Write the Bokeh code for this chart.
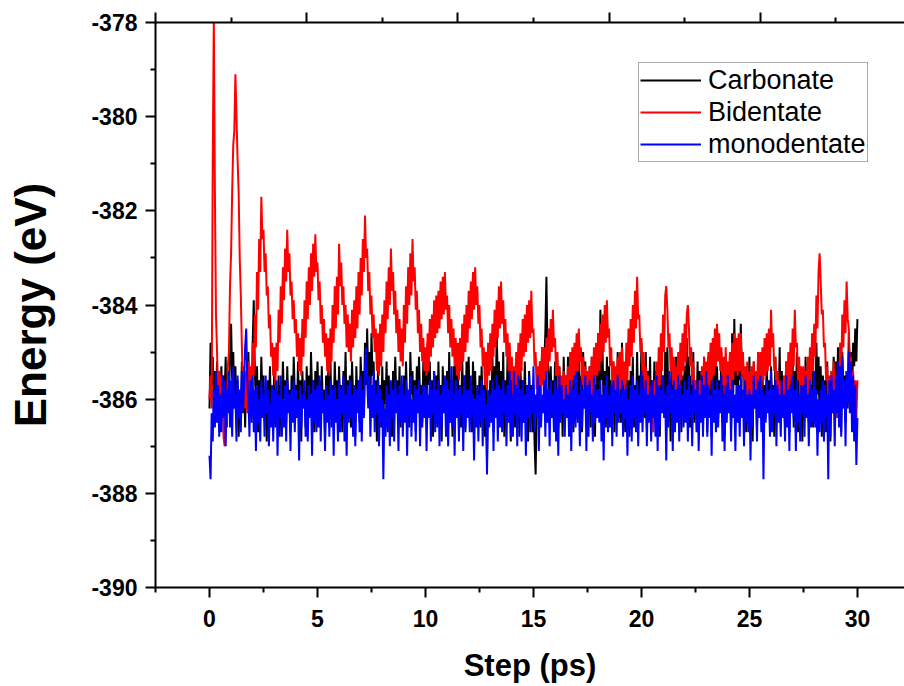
from bokeh.plotting import figure
from bokeh.models import Range1d, LinearAxis, FixedTicker, Legend, LegendItem, ColumnDataSource
from bokeh.embed import file_html
from bokeh.resources import INLINE

# time axis (ps), 0.05 ps sampling
step_ps = [round(i * 0.05, 2) for i in range(601)]

carbonate = [
    -386.2, -384.8, -385.7, -385.1, -386.3, -385.4, -386.0, -385.2, -386.5, -385.6,
    -386.1, -385.3, -386.4, -385.5, -385.9, -385.1, -386.6, -385.7, -386.2, -385.0,
    -384.4, -385.6, -385.0, -386.1, -385.3, -386.4, -385.6, -386.8, -385.8, -386.3,
    -385.2, -386.1, -385.5, -386.6, -385.4, -386.2, -385.0, -386.0, -385.6, -386.5,
    -384.8, -383.9, -385.4, -386.2, -385.3, -386.7, -385.6, -386.3, -385.1, -386.0,
    -385.5, -386.4, -385.8, -386.9, -385.6, -386.1, -385.3, -386.5, -385.7, -386.2,
    -385.4, -386.6, -385.9, -386.3, -385.5, -386.8, -385.7, -386.2, -385.2, -386.0,
    -385.6, -386.5, -385.3, -386.1, -385.8, -386.7, -385.5, -386.4, -385.1, -385.9,
    -385.7, -386.3, -385.2, -386.5, -385.6, -386.9, -385.4, -386.1, -385.8, -386.6,
    -385.3, -386.2, -385.5, -386.4, -385.0, -385.9, -385.6, -386.7, -385.4, -386.3,
    -385.2, -386.0, -385.6, -386.5, -385.3, -386.2, -385.8, -386.8, -385.5, -386.1,
    -385.4, -386.3, -385.1, -386.6, -385.7, -386.4, -385.2, -386.0, -385.6, -386.5,
    -385.3, -386.2, -385.7, -386.7, -385.4, -386.1, -385.0, -386.3, -385.6, -386.4,
    -385.5, -386.6, -385.2, -386.0, -385.8, -386.8, -385.3, -386.2, -385.6, -386.5,
    -385.1, -386.0, -385.4, -386.3, -384.8, -385.7, -384.5, -385.6, -385.0, -386.1,
    -384.6, -385.5, -385.2, -386.4, -385.6, -386.9, -385.4, -386.2, -385.7, -386.6,
    -385.3, -386.5, -385.6, -386.1, -385.2, -386.7, -385.5, -386.3, -385.8, -386.8,
    -385.4, -386.2, -385.1, -386.0, -385.6, -386.5, -385.3, -386.6, -385.7, -386.3,
    -385.5, -386.4, -385.2, -386.1, -385.8, -386.6, -385.0, -385.9, -385.4, -386.3,
    -385.6, -386.7, -385.3, -386.2, -385.1, -386.0, -385.7, -386.5, -385.2, -386.1,
    -385.3, -386.2, -384.8, -385.7, -385.2, -386.4, -385.6, -386.8, -385.4, -386.0,
    -385.5, -386.6, -385.2, -386.3, -385.7, -386.9, -385.3, -386.1, -385.6, -386.4,
    -385.4, -386.2, -385.0, -386.5, -385.6, -386.8, -385.3, -386.0, -384.9, -385.8,
    -385.3, -386.4, -385.7, -386.6, -385.1, -386.2, -385.5, -386.7, -385.2, -386.1,
    -385.1, -386.3, -385.6, -386.7, -385.2, -386.0, -385.4, -386.5, -385.8, -386.4,
    -385.5, -386.6, -385.3, -386.2, -385.7, -386.8, -385.6, -387.3, -385.9, -386.5,
    -385.6, -386.3, -385.1, -386.7, -385.3, -386.0, -384.6, -385.7, -385.2, -386.5,
    -385.4, -386.3, -385.0, -386.8, -385.6, -386.4, -385.1, -386.2, -385.5, -386.9,
    -385.3, -386.1, -385.7, -386.6, -385.2, -386.4, -385.6, -386.8, -385.4, -386.0,
    -385.6, -386.5, -385.2, -386.3, -385.8, -386.9, -385.4, -386.1, -385.7, -386.7,
    -385.7, -386.9, -387.6, -386.2, -385.8, -386.4, -385.2, -385.9, -384.9, -385.6,
    -385.2, -384.6, -383.4, -385.0, -385.5, -386.1, -385.3, -386.4, -385.6, -386.2,
    -385.2, -386.4, -385.0, -386.6, -385.3, -386.1, -385.6, -386.8, -385.1, -386.3,
    -385.5, -386.2, -385.1, -386.0, -385.7, -386.5, -385.4, -386.7, -385.2, -386.1,
    -385.4, -386.5, -384.9, -386.2, -385.5, -386.7, -385.0, -386.0, -385.2, -386.4,
    -385.6, -386.3, -385.3, -386.6, -385.1, -386.0, -385.7, -386.8, -385.4, -386.2,
    -384.6, -385.8, -384.1, -385.6, -385.0, -386.3, -385.4, -386.6, -385.1, -386.2,
    -385.3, -386.5, -385.6, -386.1, -385.2, -386.7, -385.5, -386.3, -385.0, -386.0,
    -385.3, -386.5, -384.8, -386.1, -385.5, -386.7, -385.2, -386.0, -385.6, -386.8,
    -385.4, -386.2, -385.1, -386.6, -385.7, -386.3, -385.0, -386.4, -385.5, -386.1,
    -384.8, -385.9, -385.3, -386.4, -385.0, -386.6, -385.4, -386.2, -385.1, -386.7,
    -385.6, -386.3, -385.2, -386.5, -385.4, -386.1, -385.7, -386.8, -385.3, -386.0,
    -385.5, -386.3, -385.0, -386.5, -384.9, -386.1, -385.6, -386.9, -385.2, -386.0,
    -385.4, -386.6, -385.1, -386.2, -385.7, -386.4, -385.3, -386.7, -385.5, -386.1,
    -385.3, -386.4, -384.7, -385.8, -385.1, -386.6, -385.5, -386.2, -385.0, -386.5,
    -385.6, -386.3, -385.2, -386.7, -385.4, -386.0, -385.7, -386.5, -385.1, -386.2,
    -385.4, -386.7, -385.1, -386.0, -385.6, -386.8, -385.2, -386.3, -384.9, -386.1,
    -385.3, -386.4, -385.6, -386.2, -385.0, -386.5, -385.5, -386.8, -385.2, -386.0,
    -385.5, -386.2, -385.0, -386.6, -384.6, -385.9, -384.3, -385.7, -385.3, -386.4,
    -384.8, -385.6, -384.4, -385.5, -385.2, -386.3, -385.6, -386.7, -385.3, -386.1,
    -385.1, -386.5, -385.6, -386.9, -385.2, -386.0, -385.4, -386.6, -385.0, -386.3,
    -385.5, -386.2, -385.3, -386.7, -385.7, -386.4, -385.2, -386.1, -385.6, -386.5,
    -385.3, -386.1, -385.7, -386.8, -385.1, -386.4, -385.5, -386.2, -384.9, -386.5,
    -385.4, -386.3, -385.6, -386.6, -385.2, -386.0, -385.5, -386.7, -385.3, -386.2,
    -385.2, -386.6, -385.4, -386.0, -385.0, -386.7, -385.3, -386.2, -385.6, -386.9,
    -385.5, -386.4, -385.1, -386.3, -385.7, -386.5, -385.4, -386.0, -385.2, -386.6,
    -385.4, -386.3, -384.8, -385.9, -385.1, -386.5, -385.3, -386.8, -385.5, -386.1,
    -385.6, -386.7, -385.2, -386.4, -385.8, -386.9, -385.4, -386.3, -385.1, -386.0,
    -385.2, -386.4, -384.9, -386.0, -385.3, -386.7, -385.0, -385.8, -385.5, -386.5,
    -385.4, -386.2, -384.6, -385.5, -385.0, -386.1, -384.8, -385.3, -384.5, -385.2,
    -384.3,
]

bidentate = [
    -386.0, -385.5, -386.2, -381.0, -377.9, -381.6, -384.2, -385.0, -386.2, -385.4,
    -385.6, -386.4, -385.7, -386.8, -387.0, -386.2, -386.5, -385.3, -385.0, -383.6,
    -382.9, -381.6, -380.6, -380.3, -379.1, -380.0, -380.9, -381.6, -383.0, -383.8,
    -384.9, -385.8, -385.3, -386.2, -385.4, -386.3, -385.2, -386.1, -385.3, -385.9,
    -384.8, -385.5, -384.2, -384.9, -383.3, -384.1, -382.6, -383.3, -381.7, -382.6,
    -382.4, -383.3, -382.9, -383.8, -383.6, -384.5, -384.2, -385.1, -384.8, -385.5,
    -384.9, -385.7, -384.8, -385.4, -384.1, -384.8, -383.6, -384.4, -383.2, -383.9,
    -382.8, -383.5, -382.4, -383.3, -382.9, -383.8, -383.5, -384.3, -383.9, -384.6,
    -384.3, -385.1, -384.6, -385.4, -384.7, -385.5, -384.3, -385.1, -383.9, -384.7,
    -383.5, -384.3, -383.2, -384.0, -382.9, -383.7, -382.7, -383.4, -382.5, -383.3,
    -383.1, -383.9, -383.5, -384.4, -384.0, -384.8, -384.3, -385.1, -384.6, -385.4,
    -384.7, -385.5, -384.5, -385.2, -384.0, -384.8, -383.6, -384.5, -383.4, -384.2,
    -382.7, -383.6, -383.1, -384.0, -383.6, -384.4, -384.0, -384.9, -384.2, -385.0,
    -384.4, -385.2, -384.1, -384.9, -383.9, -384.7, -383.6, -384.5, -383.3, -384.2,
    -383.0, -383.8, -382.6, -383.3, -382.1, -383.0, -382.8, -383.7, -383.3, -384.2,
    -383.8, -384.7, -384.2, -385.0, -384.5, -385.4, -384.6, -385.5, -384.4, -385.3,
    -384.2, -385.0, -383.9, -384.6, -383.5, -384.3, -383.2, -384.0, -382.8, -383.7,
    -383.3, -384.2, -383.7, -384.6, -384.1, -385.0, -384.3, -385.2, -384.5, -385.3,
    -384.0, -384.8, -383.6, -384.4, -383.2, -384.0, -382.9, -383.8, -382.6, -383.5,
    -383.2, -384.1, -383.7, -384.6, -384.1, -385.0, -384.4, -385.2, -384.7, -385.4,
    -384.9, -385.5, -384.6, -385.4, -384.3, -385.1, -384.2, -384.9, -383.9, -384.7,
    -383.8, -384.6, -383.7, -384.5, -383.5, -384.3, -383.4, -384.2, -383.3, -384.1,
    -383.8, -384.6, -384.0, -384.9, -384.3, -385.1, -384.5, -385.3, -384.7, -385.5,
    -384.8, -385.6, -384.7, -385.4, -384.4, -385.2, -384.2, -385.0, -384.0, -384.8,
    -383.7, -384.5, -383.5, -384.3, -383.3, -384.1, -383.2, -384.0, -383.6, -384.4,
    -384.0, -384.9, -384.5, -385.3, -384.9, -385.7, -385.0, -385.8, -384.8, -385.5,
    -384.6, -385.4, -384.4, -385.1, -384.1, -384.9, -383.9, -384.7, -383.6, -384.5,
    -383.5, -384.4, -383.9, -384.8, -384.3, -385.1, -384.6, -385.4, -384.8, -385.6,
    -385.1, -385.9, -385.3, -386.0, -385.0, -385.8, -384.8, -385.6, -384.6, -385.4,
    -384.3, -385.1, -384.2, -385.0, -384.0, -384.8, -383.9, -384.7, -383.7, -384.6,
    -384.5, -385.3, -385.0, -385.8, -385.3, -386.0, -385.2, -385.9, -384.9, -385.7,
    -384.9, -385.6, -384.7, -385.4, -384.5, -385.2, -384.3, -385.0, -384.1, -384.9,
    -384.7, -385.5, -385.0, -385.8, -385.3, -386.1, -385.5, -386.3, -385.4, -386.2,
    -385.5, -386.3, -385.3, -386.0, -385.0, -385.8, -384.9, -385.6, -384.8, -385.5,
    -384.6, -385.4, -384.5, -385.2, -384.9, -385.7, -385.1, -385.9, -385.3, -386.1,
    -385.4, -386.2, -385.3, -386.0, -385.1, -385.9, -384.9, -385.7, -384.8, -385.5,
    -384.6, -385.4, -384.4, -385.2, -384.2, -385.0, -384.0, -384.8, -383.9, -384.7,
    -384.5, -385.3, -384.9, -385.7, -385.2, -386.0, -385.3, -386.1, -385.1, -385.9,
    -385.0, -385.8, -384.9, -385.7, -385.2, -386.0, -384.8, -385.6, -384.5, -385.3,
    -384.3, -385.1, -384.0, -384.8, -383.7, -384.5, -383.4, -384.3, -384.2, -385.0,
    -384.7, -385.5, -385.0, -385.8, -385.3, -386.1, -385.5, -386.3, -385.7, -386.5,
    -385.9, -386.7, -385.6, -386.4, -385.2, -386.0, -384.9, -385.7, -384.6, -385.4,
    -384.2, -385.0, -383.8, -383.6, -384.1, -384.9, -384.6, -385.4, -384.9, -385.7,
    -385.1, -385.9, -385.3, -386.1, -385.0, -385.8, -384.8, -385.6, -384.6, -385.4,
    -384.4, -385.2, -384.2, -384.0, -384.5, -385.3, -384.9, -385.7, -385.2, -386.0,
    -385.6, -386.4, -385.8, -386.5, -385.6, -386.3, -385.3, -386.1, -385.1, -385.9,
    -385.2, -386.0, -385.0, -385.8, -384.8, -385.6, -384.7, -385.5, -384.5, -385.3,
    -384.4, -385.2, -384.6, -385.4, -384.9, -385.7, -385.1, -385.9, -384.9, -385.7,
    -385.2, -386.0, -385.0, -385.8, -384.8, -385.6, -384.6, -385.4, -384.7, -385.5,
    -384.6, -385.4, -384.6, -385.5, -385.0, -385.8, -385.3, -386.1, -385.2, -386.0,
    -385.4, -386.2, -385.3, -386.1, -385.2, -386.0, -385.4, -386.2, -385.0, -385.8,
    -385.0, -385.8, -384.9, -385.6, -384.7, -385.5, -384.6, -385.4, -384.5, -385.3,
    -384.1, -384.9, -384.6, -385.4, -385.1, -385.9, -385.4, -386.2, -385.6, -386.4,
    -385.7, -386.4, -385.5, -386.2, -385.2, -386.0, -385.0, -385.8, -384.8, -385.6,
    -384.5, -385.3, -384.1, -384.9, -384.8, -385.6, -385.1, -385.9, -385.3, -386.1,
    -385.3, -386.1, -385.4, -386.2, -385.1, -385.9, -384.9, -385.7, -384.6, -385.4,
    -384.4, -385.1, -383.8, -384.5, -383.3, -382.9, -383.5, -384.2, -384.1, -384.9,
    -384.8, -385.6, -385.3, -386.1, -385.5, -386.3, -385.4, -386.2, -385.2, -386.0,
    -385.8, -386.4, -385.3, -386.0, -384.8, -385.5, -384.2, -384.9, -383.9, -384.6,
    -383.5, -384.3, -384.5, -385.3, -385.1, -385.9, -385.4, -386.2, -385.6, -386.4,
    -385.6,
]

monodentate = [
    -387.2, -387.7, -386.3, -386.9, -385.8, -386.6, -385.4, -386.5, -385.7, -386.8,
    -385.9, -386.7, -385.5, -386.4, -385.6, -387.0, -385.8, -386.3, -385.4, -386.6,
    -385.6, -386.8, -385.3, -386.2, -385.9, -386.9, -385.5, -386.4, -385.8, -386.7,
    -385.4, -386.3, -385.7, -384.9, -384.5, -385.6, -385.9, -386.8, -385.6, -386.4,
    -385.5, -386.7, -385.8, -387.1, -385.7, -386.5, -386.0, -386.9, -385.6, -386.4,
    -385.9, -386.8, -385.5, -386.3, -385.8, -387.0, -386.1, -386.6, -385.7, -386.9,
    -385.8, -386.5, -385.6, -387.2, -385.9, -386.4, -385.5, -386.8, -386.0, -386.6,
    -385.7, -386.9, -385.6, -386.3, -385.9, -387.1, -385.8, -386.5, -385.6, -386.7,
    -385.8, -386.4, -386.0, -387.3, -385.7, -386.6, -385.9, -386.2, -385.6, -386.8,
    -386.0, -386.9, -385.7, -386.4, -385.9, -387.2, -385.6, -386.5, -385.8, -386.7,
    -385.7, -386.6, -385.5, -386.9, -385.8, -386.3, -386.0, -387.1, -385.7, -386.5,
    -385.9, -386.8, -385.6, -386.4, -385.8, -387.2, -385.7, -386.5, -386.0, -386.9,
    -385.6, -386.7, -385.8, -386.3, -385.5, -386.9, -385.9, -387.2, -385.7, -386.5,
    -385.6, -386.4, -385.9, -386.8, -385.7, -387.0, -385.8, -386.3, -385.6, -386.7,
    -385.5, -386.9, -385.8, -386.4, -385.3, -384.9, -385.6, -386.2, -385.5, -386.8,
    -385.7, -386.4, -385.4, -386.7, -385.9, -386.3, -385.6, -387.0, -385.8, -386.5,
    -386.0, -387.7, -386.2, -386.8, -385.7, -386.6, -385.9, -387.0, -385.6, -386.4,
    -385.8, -386.9, -385.6, -386.3, -385.9, -387.1, -385.7, -386.5, -385.5, -386.8,
    -385.9, -386.5, -385.6, -387.2, -385.8, -386.4, -385.5, -386.8, -386.0, -386.5,
    -385.7, -386.9, -385.8, -386.3, -385.6, -387.0, -385.9, -386.6, -385.7, -386.4,
    -385.7, -387.1, -385.9, -386.4, -385.6, -386.9, -385.8, -386.3, -385.4, -386.7,
    -385.8, -386.5, -385.6, -387.0, -385.9, -386.6, -385.7, -386.3, -385.5, -386.8,
    -385.6, -387.0, -385.8, -386.5, -385.3, -386.6, -385.9, -387.2, -385.6, -386.4,
    -385.8, -386.9, -385.7, -386.3, -385.9, -387.1, -385.5, -386.6, -385.8, -386.4,
    -385.8, -386.7, -385.5, -386.3, -385.9, -387.3, -386.0, -386.6, -385.7, -386.9,
    -385.9, -386.5, -385.6, -387.0, -385.8, -386.4, -386.1, -387.6, -385.8, -386.6,
    -385.9, -386.5, -385.6, -387.1, -385.8, -386.4, -385.5, -386.9, -385.7, -386.6,
    -385.8, -386.7, -385.6, -386.3, -385.9, -387.0, -385.7, -386.5, -385.4, -386.8,
    -385.9, -386.8, -385.4, -386.3, -385.7, -387.0, -385.5, -386.4, -385.8, -386.9,
    -385.6, -386.5, -385.9, -387.2, -385.7, -386.4, -385.5, -386.7, -385.8, -386.3,
    -385.3, -386.7, -385.9, -386.4, -385.5, -387.1, -385.7, -386.6, -385.9, -386.3,
    -385.6, -386.8, -385.4, -386.5, -385.8, -387.0, -385.6, -386.3, -385.9, -386.7,
    -385.6, -386.9, -385.8, -387.2, -385.5, -386.5, -385.7, -386.3, -386.0, -386.8,
    -385.7, -386.4, -385.9, -386.8, -385.6, -387.1, -385.8, -386.5, -385.5, -386.6,
    -385.4, -386.4, -385.9, -387.0, -385.6, -386.6, -385.8, -386.2, -385.5, -387.1,
    -385.7, -386.8, -385.6, -386.3, -385.9, -386.9, -385.5, -386.5, -385.8, -386.4,
    -385.8, -386.5, -385.6, -386.9, -385.9, -387.3, -385.7, -386.4, -385.5, -386.7,
    -385.9, -386.6, -385.7, -387.0, -385.6, -386.3, -385.8, -386.8, -385.5, -386.5,
    -385.9, -386.3, -385.6, -386.8, -385.8, -386.4, -385.7, -387.2, -386.0, -386.6,
    -385.7, -386.9, -385.5, -386.4, -385.8, -386.7, -385.6, -387.0, -385.9, -386.5,
    -385.4, -386.7, -385.8, -386.3, -385.6, -387.0, -385.9, -386.5, -385.7, -386.9,
    -385.6, -386.4, -385.9, -386.8, -385.5, -387.1, -385.7, -386.6, -385.8, -386.3,
    -385.5, -386.4, -385.9, -387.3, -385.7, -386.6, -385.4, -386.3, -385.8, -387.1,
    -385.6, -386.7, -385.8, -386.5, -385.5, -386.9, -385.7, -386.4, -385.9, -386.6,
    -385.6, -386.5, -385.8, -386.9, -385.5, -386.4, -385.9, -387.0, -385.6, -386.3,
    -385.8, -386.7, -385.6, -387.1, -385.9, -386.5, -385.5, -386.8, -385.7, -386.4,
    -385.4, -386.8, -385.7, -386.4, -385.9, -387.2, -385.6, -386.5, -385.8, -386.7,
    -385.6, -386.6, -385.8, -386.3, -385.5, -386.9, -385.9, -387.1, -385.7, -386.5,
    -385.5, -386.3, -385.8, -386.9, -385.6, -386.4, -385.9, -387.1, -385.7, -386.5,
    -385.7, -386.8, -385.5, -386.4, -385.8, -387.0, -385.6, -386.5, -385.9, -386.7,
    -385.8, -387.3, -385.9, -386.6, -385.5, -386.2, -385.8, -386.9, -385.6, -386.4,
    -385.5, -386.7, -385.8, -387.7, -385.9, -386.5, -385.6, -386.3, -385.8, -386.8,
    -385.4, -386.7, -385.8, -386.3, -385.6, -387.0, -385.7, -386.5, -385.9, -386.8,
    -385.6, -386.4, -385.9, -386.9, -385.5, -386.6, -385.8, -387.1, -385.7, -386.3,
    -385.5, -386.4, -385.8, -387.1, -385.6, -386.5, -385.9, -386.9, -385.7, -386.3,
    -385.7, -386.8, -385.5, -386.4, -385.9, -387.0, -385.6, -386.6, -385.8, -386.5,
    -385.4, -386.6, -385.8, -387.2, -386.0, -386.7, -385.8, -386.5, -385.6, -386.9,
    -385.7, -386.4, -385.9, -387.7, -385.6, -386.8, -385.5, -386.3, -385.8, -387.0,
    -385.5, -386.3, -385.2, -386.6, -385.3, -386.8, -385.1, -386.2, -385.6, -387.0,
    -385.4, -386.1, -385.0, -386.3, -385.2, -386.7, -385.5, -386.9, -385.7, -387.4,
    -386.4,
]

series_names = ["Carbonate", "Bidentate", "monodentate"]
series_colors = ["#000000", "#FF0000", "#0000FF"]

x_major = [0, 5, 10, 15, 20, 25, 30]
x_minor = [-2.5, 2.5, 7.5, 12.5, 17.5, 22.5, 27.5]
top_major = [-2.5, 4.5, 11.5, 18.5, 25.5]
top_minor = [1, 8, 15, 22, 29]
y_major = [-390, -388, -386, -384, -382, -380, -378]
y_minor = [-389, -387, -385, -383, -381, -379]

FONT = "Liberation Sans"

p = figure(width=904, height=686,
           x_range=Range1d(-2.5, 32.18), y_range=Range1d(-390, -378),
           output_backend="svg", toolbar_location=None,
           min_border_left=155, min_border_right=0,
           min_border_top=22, min_border_bottom=99)
p.background_fill_color = "white"
p.border_fill_color = "white"
p.outline_line_color = None
p.xgrid.visible = False
p.ygrid.visible = False

renderers = []
for vals, name, color in zip([carbonate, bidentate, monodentate], series_names, series_colors):
    src = ColumnDataSource(dict(x=step_ps[:len(vals)], y=vals))
    r = p.line("x", "y", source=src, line_color=color, line_width=2)
    renderers.append(r)

def style_axis(ax):
    ax.axis_line_width = 2
    ax.axis_line_color = "black"
    ax.major_tick_line_width = 2
    ax.minor_tick_line_width = 2
    ax.major_tick_out = 10
    ax.major_tick_in = 0
    ax.minor_tick_out = 5
    ax.minor_tick_in = 0
    ax.major_label_text_font = FONT
    ax.major_label_text_font_style = "bold"
    ax.major_label_text_font_size = "23px"
    ax.major_label_text_color = "black"
    ax.axis_label_text_font = FONT
    ax.axis_label_text_font_style = "bold"
    ax.axis_label_text_color = "black"

xa = p.xaxis[0]
xa.ticker = FixedTicker(ticks=x_major, minor_ticks=x_minor)
style_axis(xa)
xa.major_label_standoff = 12
xa.axis_label = "Step (ps)"
xa.axis_label_text_font_size = "31px"
xa.axis_label_standoff = 18

ya = p.yaxis[0]
ya.ticker = FixedTicker(ticks=y_major, minor_ticks=y_minor)
style_axis(ya)
ya.major_label_standoff = 8
ya.major_label_overrides = {v: "-%d" % abs(v) for v in y_major}
ya.axis_label = "Energy (eV)"
ya.axis_label_text_font_size = "44px"
ya.axis_label_standoff = 33

top = LinearAxis(ticker=FixedTicker(ticks=top_major, minor_ticks=top_minor))
style_axis(top)
top.major_label_overrides = {v: "" for v in top_major}
top.major_label_standoff = 0
p.add_layout(top, "above")

legend = Legend(items=[LegendItem(label=n, renderers=[r]) for n, r in zip(series_names, renderers)],
                location=(483, 425))
legend.label_text_font = FONT
legend.label_text_font_size = "27px"
legend.label_text_color = "black"
legend.glyph_width = 61
legend.glyph_height = 32
legend.label_height = 32
legend.label_standoff = 7
legend.spacing = 0
legend.padding = 1
legend.margin = 0
legend.border_line_color = "#555555"
legend.border_line_width = 1
legend.background_fill_color = "white"
legend.background_fill_alpha = 1.0
p.add_layout(legend)

open("out.html", "w").write(file_html(p, INLINE))
